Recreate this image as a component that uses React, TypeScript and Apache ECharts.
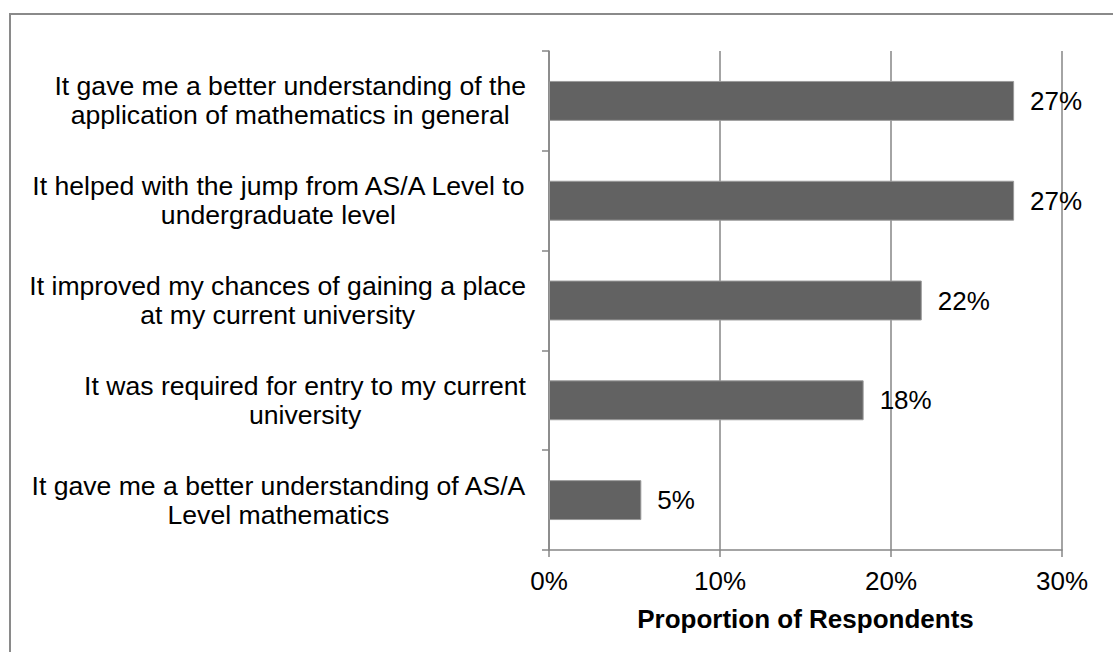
import React, { useEffect, useRef } from "react";
import * as echarts from "echarts";

const categories: string[] = [
  "It gave me a better understanding of the\napplication of mathematics in general",
  "It helped with the jump from AS/A Level to\nundergraduate level",
  "It improved my chances of gaining a place\nat my current university",
  "It was required for entry to my current\nuniversity",
  "It gave me a better understanding of AS/A\nLevel mathematics",
];
const proportions: number[] = [27.2, 27.2, 21.8, 18.4, 5.4];
const xTicks = { min: 0, max: 30, interval: 10 };
const xAxisName = "Proportion of Respondents";

const FONT = '"Liberation Sans", Arial, sans-serif';
const GRAY = "#868686";

export default function App() {
  const ref = useRef<HTMLDivElement>(null);
  useEffect(() => {
    if (!ref.current) return;
    const chart = echarts.init(ref.current, undefined, { renderer: "svg" });
    chart.setOption({
      animation: false,
      textStyle: { fontFamily: FONT },
      graphic: [
        {
          type: "rect",
          shape: { x: 10, y: 14, width: 1200, height: 700 },
          style: { fill: "none", stroke: "#8a8a8a", lineWidth: 2 },
          silent: true,
        },
      ],
      grid: { left: 549, right: 51, top: 51, bottom: 102, containLabel: false },
      xAxis: {
        type: "value",
        min: xTicks.min,
        max: xTicks.max,
        interval: xTicks.interval,
        axisLine: { show: true, lineStyle: { color: GRAY, width: 1.5 } },
        axisTick: { show: true, length: 7, lineStyle: { color: GRAY, width: 1.5 } },
        splitLine: { show: true, lineStyle: { color: GRAY, width: 1.5 } },
        axisLabel: {
          formatter: (v: number) => `${v}%`,
          fontSize: 26,
          color: "#000",
          fontFamily: FONT,
          margin: 18,
        },
        name: xAxisName,
        nameLocation: "middle",
        nameGap: 56,
        nameTextStyle: { fontSize: 26, fontWeight: "bold", color: "#000", fontFamily: FONT },
      },
      yAxis: {
        type: "category",
        data: categories,
        inverse: true,
        axisLine: { show: true, lineStyle: { color: GRAY, width: 1.5 } },
        axisTick: { show: true, length: 7, lineStyle: { color: GRAY, width: 1.5 } },
        splitLine: { show: false },
        axisLabel: {
          fontSize: 26.6,
          color: "#000",
          fontFamily: FONT,
          margin: 23,
          lineHeight: 29,
          align: "right",
          formatter: (v: string) =>
            v
              .split("\n")
              .map((l) => `{c|${l}}`)
              .join("\n"),
          rich: {
            c: { align: "center", fontSize: 26.6, lineHeight: 29, color: "#000", fontFamily: FONT },
          },
        },
      },
      series: [
        {
          type: "bar",
          data: proportions,
          barWidth: "40%",
          itemStyle: { color: "#626262", borderColor: "#9a9a9a", borderWidth: 1 },
          label: {
            show: true,
            position: "right",
            distance: 16,
            fontSize: 26,
            color: "#000",
            fontFamily: FONT,
            formatter: (p: any) => `${Math.round(p.value)}%`,
          },
        },
      ],
    });
    return () => chart.dispose();
  }, []);
  return (
    <div
      ref={ref}
      style={{ position: "absolute", left: 0, top: 0, width: 1113, height: 652, background: "#fff" }}
    />
  );
}
